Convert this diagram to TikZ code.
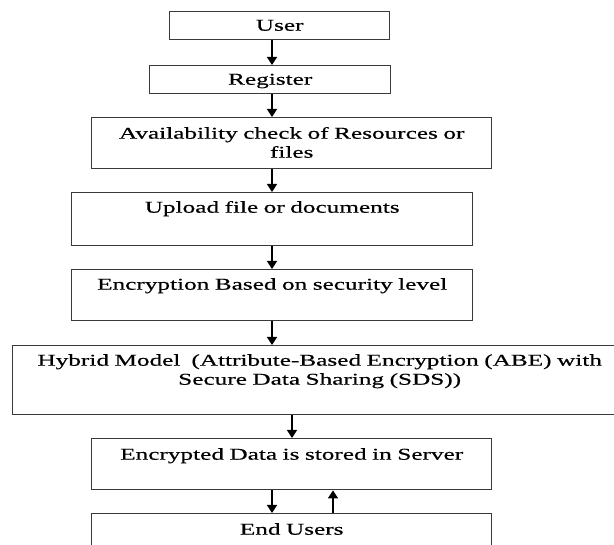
\documentclass[tikz,border=0pt]{standalone}
\usepackage{fontspec}
\setmainfont{Liberation Serif}[FakeStretch=1.53,FakeBold=0.5]
\usetikzlibrary{arrows.meta,positioning}
\definecolor{boxline}{HTML}{3A3A3A}

\begin{document}
\begin{tikzpicture}[x=1pt,y=-1pt,font=\fontsize{16.5}{19}\selectfont,
    b/.style={draw=boxline,line width=1.4pt,anchor=north west,inner sep=0pt,align=center},
    a/.style={-{Triangle[length=8pt,width=10pt]},line width=1.5pt}]
  \useasboundingbox (0,0) rectangle (614,545);
  \coordinate (spine) at (272,0);
  \coordinate (drop) at (292,0);
  \coordinate (back) at (333,0);
  \node[b,text width=220pt,text height=19pt,text depth=9pt] (user) at (169,11) {User};
  \node[b,text width=241pt,text height=19pt,text depth=9pt] (reg) at (149,65) {Register};
  \node[b,text width=400pt,text height=21pt,text depth=30pt] (avail) at (91,117)
    {Availability check of Resources or\\files};
  \node[b,text width=401pt,text height=20pt,text depth=33pt] (upload) at (71,192) {Upload file or documents};
  \node[b,text width=401pt,text height=20pt,text depth=31pt] (enc) at (71,269) {Encryption Based on security level};
  \node[b,text width=614pt,text height=20pt,text depth=49pt] (hybrid) at (12,345)
    {Hybrid Model~~(Attribute-Based Encryption (ABE) with\\Secure Data Sharing (SDS))};
  \node[b,text width=400pt,text height=21pt,text depth=30pt] (store) at (91,438) {Encrypted Data is stored in Server};
  \node[b,text width=400pt,text height=21pt,text depth=40pt] (endu) at (91,513) {End Users};
  \draw[a] (user.south -| spine) -- (reg.north -| spine);
  \draw[a] (reg.south -| spine) -- (avail.north -| spine);
  \draw[a] (avail.south -| spine) -- (upload.north -| spine);
  \draw[a] (upload.south -| spine) -- (enc.north -| spine);
  \draw[a] (enc.south -| spine) -- (hybrid.north -| spine);
  \draw[a] (hybrid.south -| drop) -- (store.north -| drop);
  \draw[a] (store.south -| spine) -- (endu.north -| spine);
  \draw[a] (endu.north -| back) -- (store.south -| back);
\end{tikzpicture}
\end{document}
